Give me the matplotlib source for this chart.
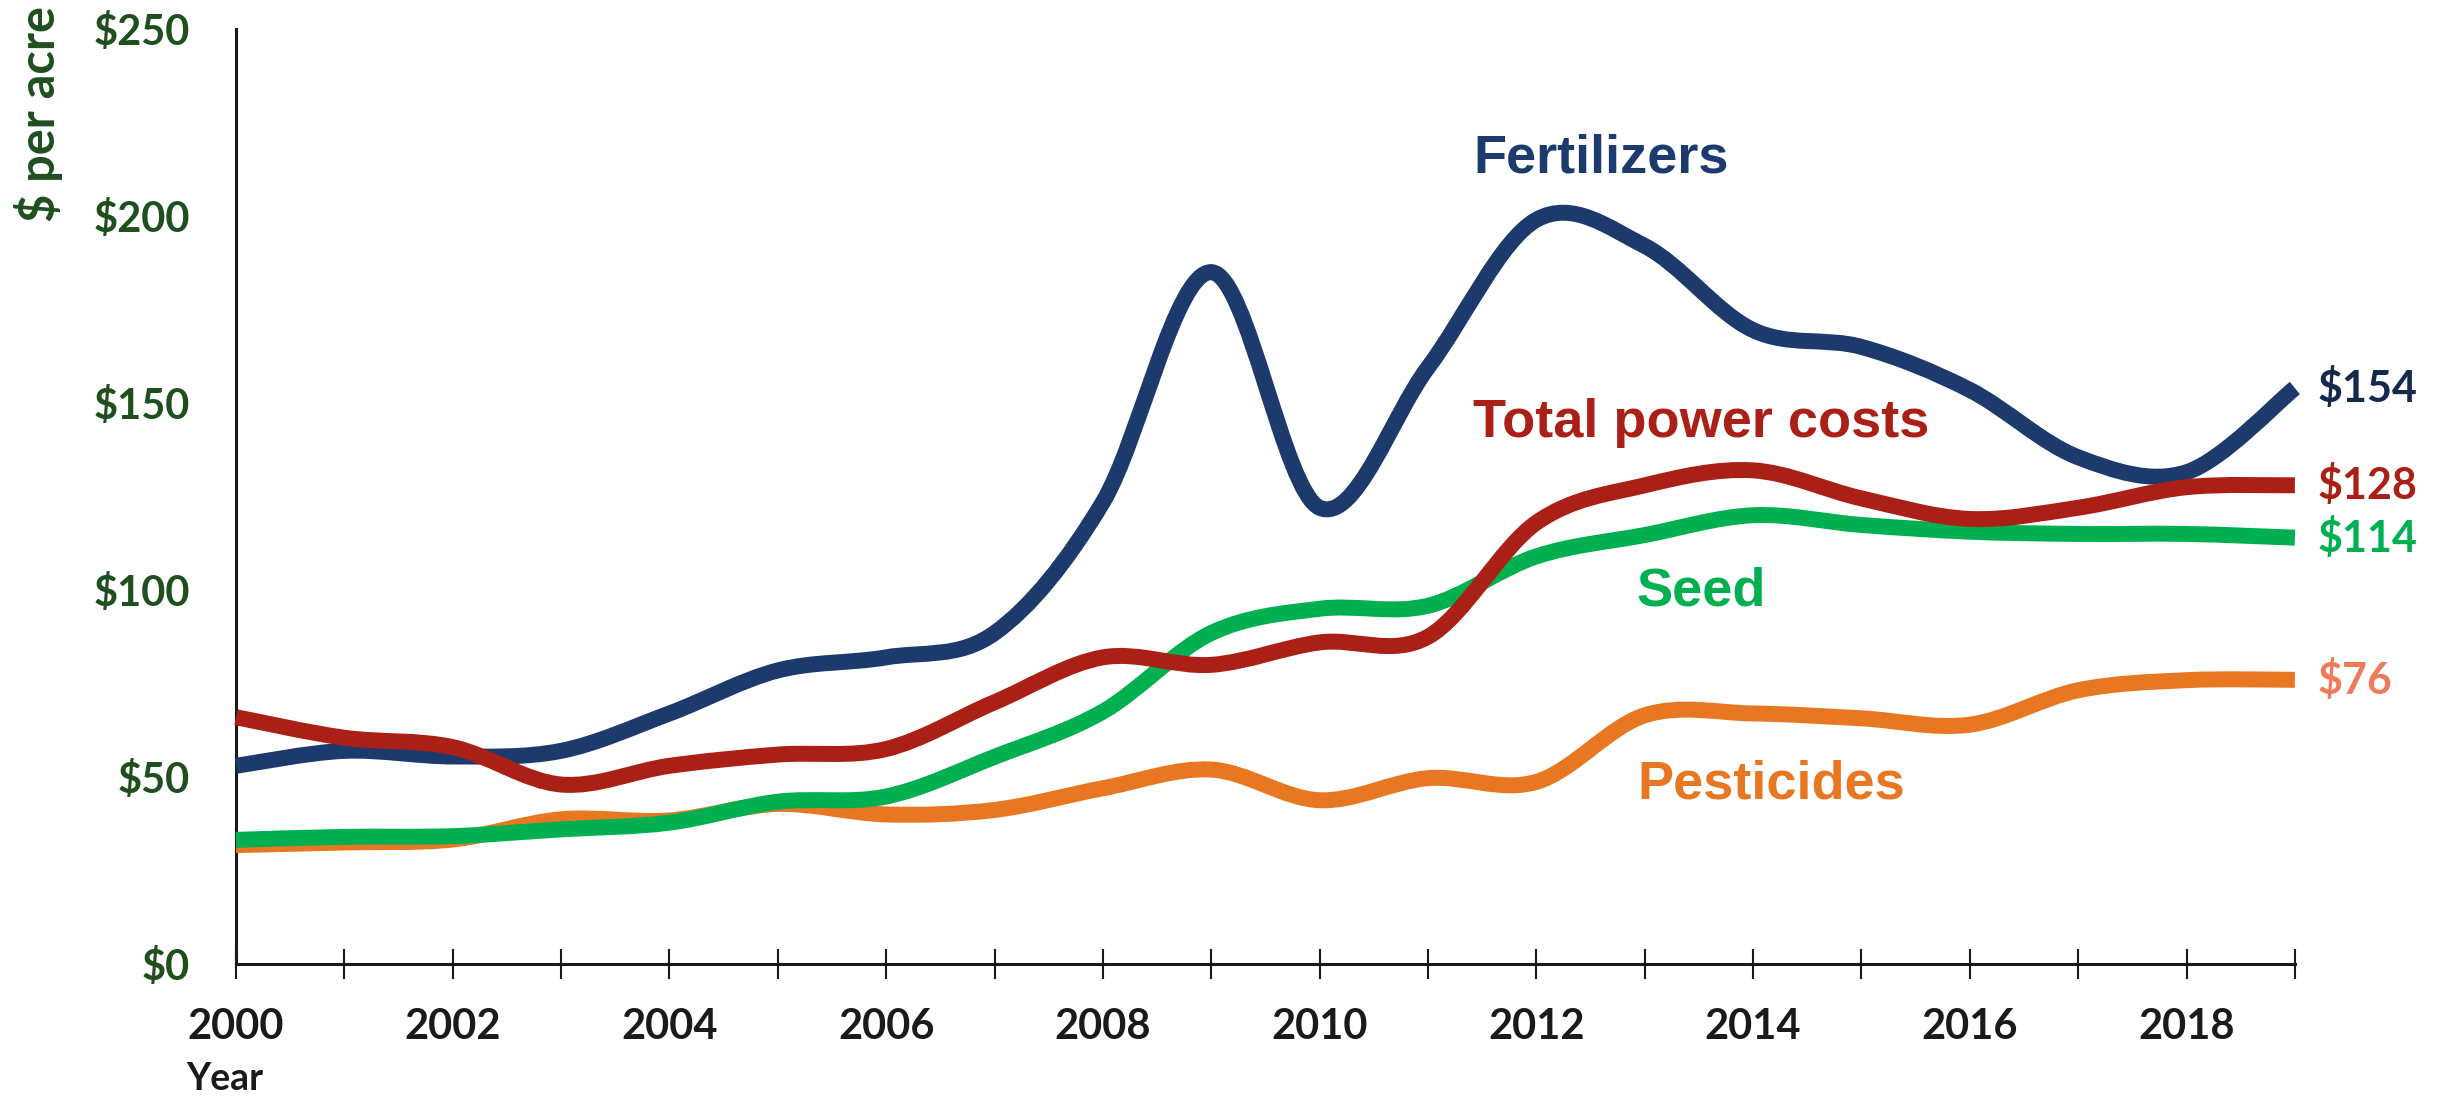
import numpy as np
import matplotlib.pyplot as plt
from matplotlib.path import Path
from matplotlib.patches import PathPatch

# Farm input costs, $ per acre
years = list(range(2000, 2020))
fertilizers = [53, 57, 55.5, 57, 67, 78.5, 82, 88.5, 123.5, 185, 122, 159.5, 199, 192,
               169.5, 165, 153.5, 135.5, 131.5, 154]
power_costs = [66, 60.5, 58, 48, 53, 56, 57.5, 70, 82, 80, 86, 87.5, 118, 128,
               132, 124.5, 119, 122, 127.5, 128]
seed = [33.2, 34, 34.2, 36, 37.8, 43.4, 44.8, 55.4, 67.5, 88.5, 95, 95.8, 109, 114.7,
        120, 117.4, 115.6, 115, 115, 114]
pesticides = [31.8, 32.5, 33.3, 38.7, 38.4, 42.8, 40, 41.2, 47, 52, 43.8, 49.7, 48.7, 66.5,
              67, 65.7, 64, 73.2, 75.9, 76]

series_names = ["Fertilizers", "Total power costs", "Seed", "Pesticides"]
line_colors = ["#1C3A6B", "#AA2016", "#00B050", "#E87722"]
end_colors = ["#15294D", "#AA2016", "#00B050", "#F07B5B"]
tick_green = "#1F4F1F"
dark = "#1A1A1A"


def smooth_path(x, y):
    # smoothed line like a spreadsheet chart: cubic bezier through every point
    x = np.asarray(x, float)
    y = np.asarray(y, float)
    xp = np.r_[x[0], x, x[-1]]
    yp = np.r_[y[0], y, y[-1]]
    verts = [(x[0], y[0])]
    codes = [Path.MOVETO]
    for i in range(len(x) - 1):
        c1 = (x[i] + (xp[i + 2] - xp[i]) / 6, y[i] + (yp[i + 2] - yp[i]) / 6)
        c2 = (x[i + 1] - (xp[i + 3] - xp[i + 1]) / 6, y[i + 1] - (yp[i + 3] - yp[i + 1]) / 6)
        verts += [c1, c2, (x[i + 1], y[i + 1])]
        codes += [Path.CURVE4] * 3
    return Path(verts, codes)


fig = plt.figure(figsize=(24.38, 10.99), dpi=100)
ax = fig.add_axes([0.0968, 0.1228, 0.9413 - 0.0968, 0.9736 - 0.1228])

all_series = [fertilizers, power_costs, seed, pesticides]
draw_order = [0, 3, 2, 1]
for z, idx in enumerate(draw_order):
    patch = PathPatch(smooth_path(years, all_series[idx]), fill=False,
                      edgecolor=line_colors[idx], lw=11.5, capstyle="butt",
                      joinstyle="round", clip_on=False, zorder=3 + z)
    ax.add_patch(patch)

ax.set_xlim(2000, 2019)
ax.set_ylim(0, 250)

for s in ["top", "right"]:
    ax.spines[s].set_visible(False)
for s in ["left", "bottom"]:
    ax.spines[s].set_color(dark)
    ax.spines[s].set_linewidth(2.2)

ax.set_xticks(years)
ax.set_xticklabels([str(y) if y % 2 == 0 else "" for y in years])
ax.tick_params(axis="x", direction="inout", length=21.6, width=1.5, color=dark,
               pad=21, labelsize=30, labelcolor=dark)
ax.set_yticks([0, 50, 100, 150, 200, 250])
ax.set_yticklabels(["$0", "$50", "$100", "$150", "$200", "$250"])
ax.tick_params(axis="y", length=0, pad=33, labelsize=30, labelcolor=tick_green)
for lab in ax.get_xticklabels() + ax.get_yticklabels():
    lab.set_fontfamily("Lato")
    lab.set_fontweight("bold")

# series names inside the plot
label_pos = [(2012.6, 215.5), (2013.52, 144.7), (2013.52, 99.5), (2014.17, 47.9)]
for name, (lx, ly), c in zip(series_names, label_pos, line_colors):
    ax.text(lx, ly, name, color=c, fontsize=39, fontweight="bold",
            family="Liberation Sans", ha="center", va="center", zorder=10)

# last values at the right end
for vals, c in zip(all_series, end_colors):
    ax.annotate(f"${vals[-1]:.0f}", xy=(years[-1], vals[-1]), xytext=(16, 0),
                textcoords="offset points", ha="left", va="center", color=c,
                fontsize=31, fontweight="bold", family="Lato", annotation_clip=False)

fig.text(39 / 2438, 1 - 6 / 1099, "$ per acre", rotation=90, ha="center", va="top",
         color=tick_green, fontsize=35, fontweight="bold", family="Lato")
fig.text(186 / 2438, 1 - 1090 / 1099, "Year", ha="left", va="baseline",
         color=dark, fontsize=27, fontweight="bold", family="Lato")

fig.savefig("out.png", dpi=100, facecolor="white")
